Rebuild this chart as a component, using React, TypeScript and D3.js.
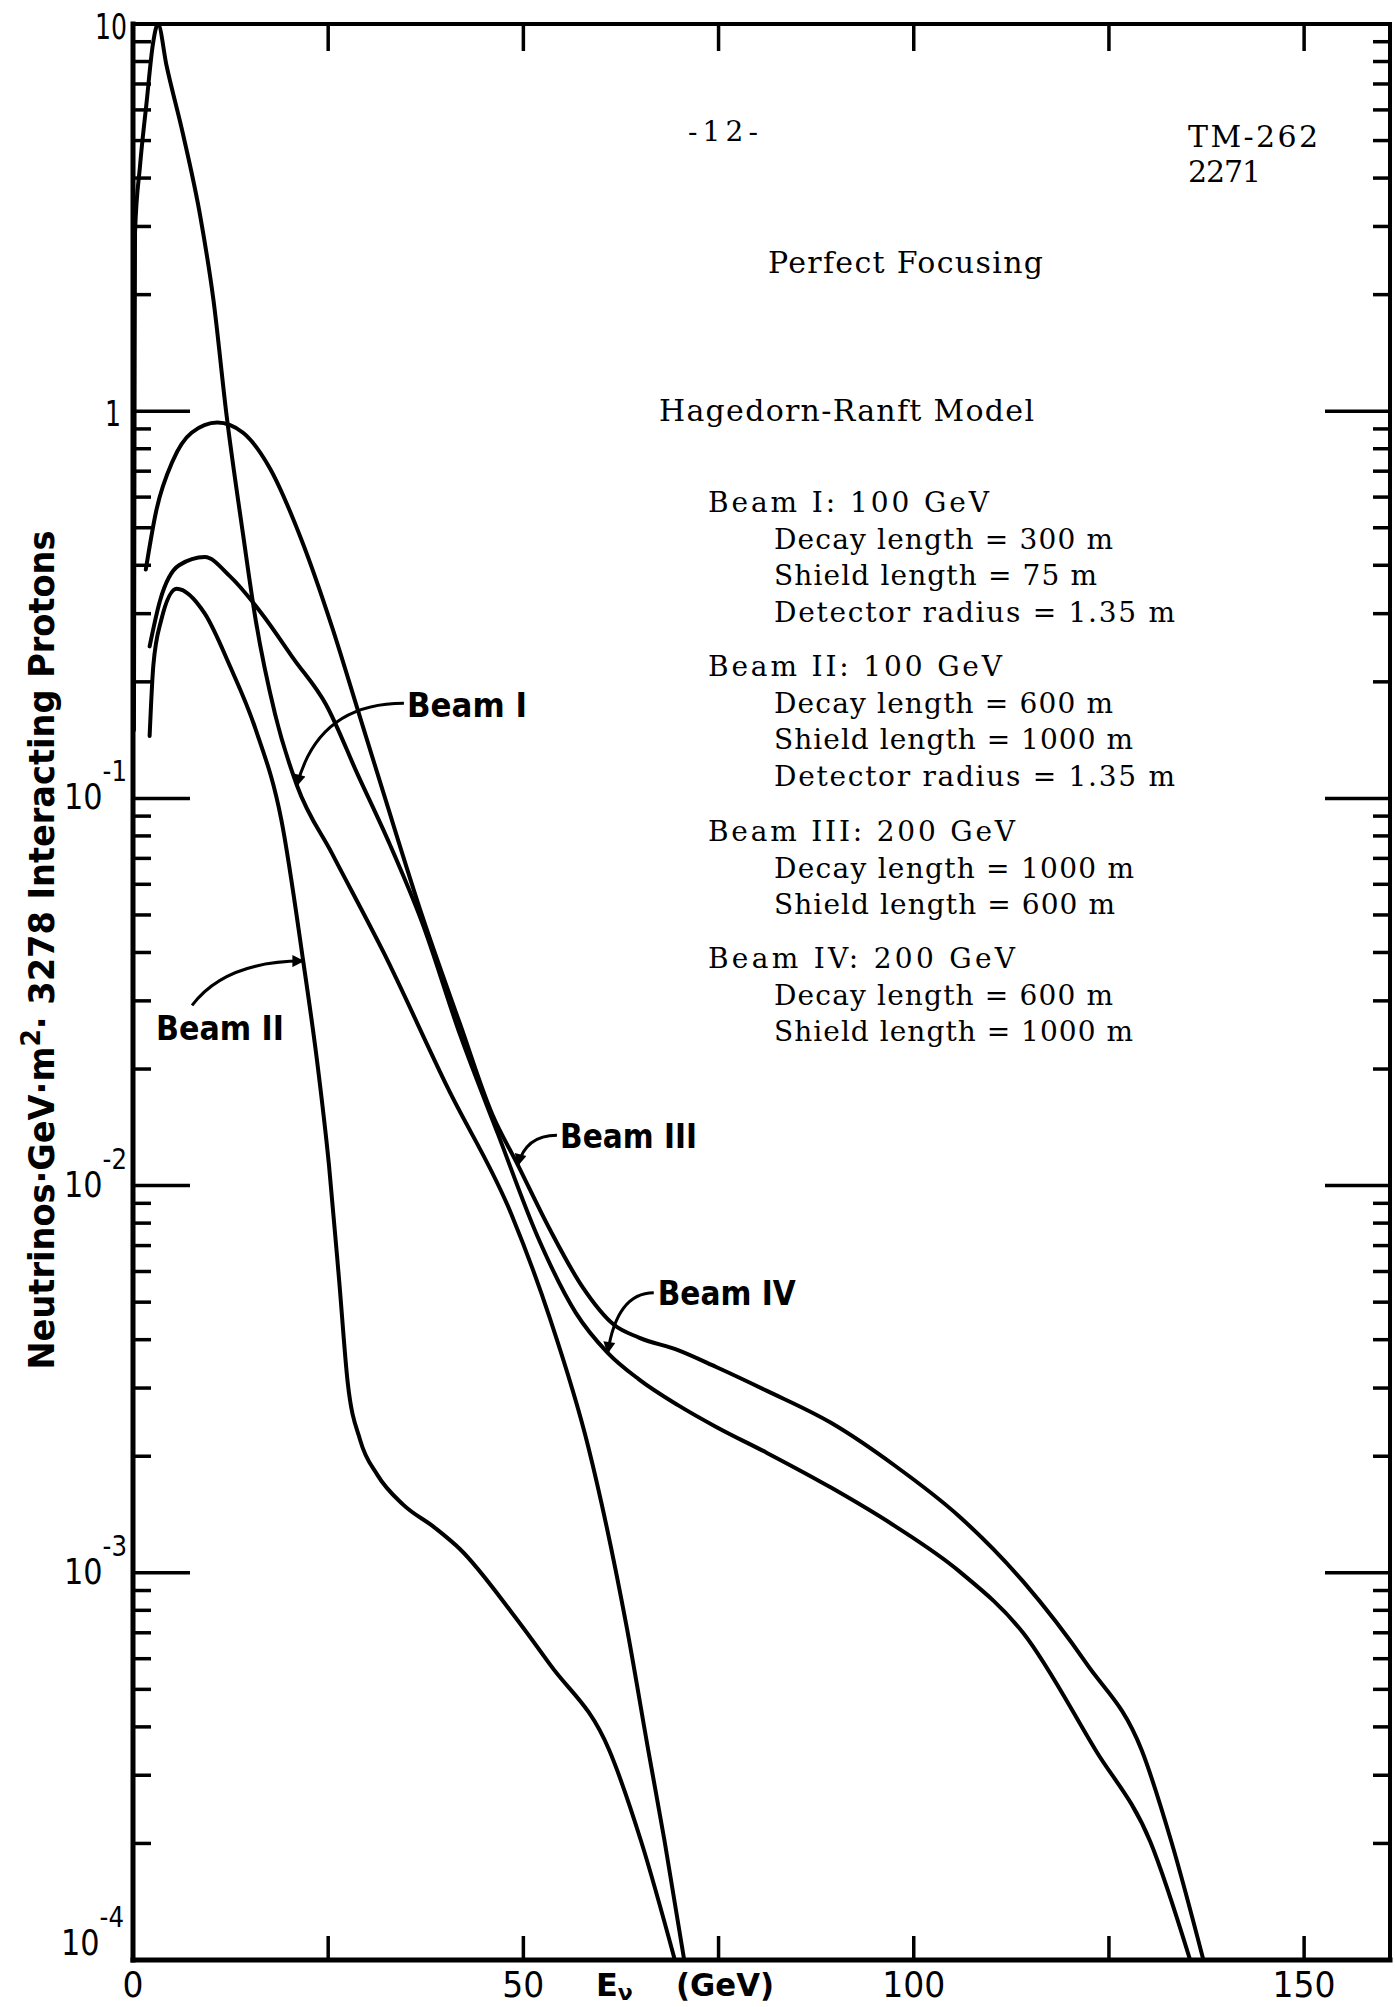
import * as d3 from "d3";

// ---- curves (E in GeV, flux per GeV m^2 per 3278 interacting protons) ----
const beamIEnergy = [0.12, 0.2, 0.26, 0.9, 1.75, 2.56, 3.2, 4.3, 6.4, 8.6, 10.3, 12.0, 14.1, 15.7, 18.2, 21.0, 25.5, 32.1, 40.3, 48.5, 53.4, 58.3, 63.2, 66.0, 68.1, 70.6];
const beamIFlux = [0.15, 1.0, 2.9, 4.3, 6.3, 8.9, 10, 7.8, 5.2, 3.2, 1.94, 0.97, 0.48, 0.29, 0.165, 0.108, 0.072, 0.04, 0.0179, 0.0084, 0.00454, 0.00212, 0.00073, 0.000348, 0.000202, 0.0001];

const beamIIEnergy = [2.13, 2.6, 3.6, 5.6, 9.2, 12.4, 15.7, 19.0, 21.8, 23.6, 25.1, 26.4, 27.5, 29.1, 31.3, 34.6, 38.6, 41.9, 48.5, 53.4, 61.0, 65.1, 69.4];
const beamIIFlux = [0.145, 0.22, 0.288, 0.348, 0.3, 0.22, 0.151, 0.088, 0.038, 0.0208, 0.0113, 0.0057, 0.0031, 0.0022, 0.00179, 0.0015, 0.00131, 0.00115, 0.00079, 0.00058, 0.000348, 0.000202, 0.0001];

const beamIIIEnergy = [1.64, 2.95, 5.1, 7.5, 10.8, 14.1, 17.4, 21.5, 25.5, 28.8, 32.1, 37.0, 41.9, 46.0, 49.3, 53.4, 57.5, 61.6, 64.8, 69.8, 74.7, 81.2, 89.4, 97.6, 105.8, 114.0, 122.2, 129.2, 133.0, 137.1];
const beamIIIFlux = [0.39, 0.55, 0.745, 0.88, 0.935, 0.88, 0.72, 0.47, 0.277, 0.169, 0.103, 0.05, 0.0261, 0.0153, 0.0113, 0.0077, 0.0055, 0.00437, 0.00405, 0.00376, 0.0034, 0.00295, 0.00244, 0.00189, 0.0014, 0.00095, 0.00058, 0.000348, 0.000202, 0.0001];

const beamIVEnergy = [2.13, 3.44, 5.9, 9.2, 12.4, 16.5, 20.6, 24.7, 28.8, 32.9, 37.0, 41.9, 46.8, 51.8, 56.7, 60.8, 64.8, 69.8, 74.7, 81.2, 89.4, 97.6, 105.8, 114.0, 123.3, 130.3, 135.4];
const beamIVFlux = [0.247, 0.323, 0.4, 0.42, 0.375, 0.3, 0.229, 0.175, 0.115, 0.076, 0.048, 0.0245, 0.0135, 0.0074, 0.0047, 0.0037, 0.00316, 0.00271, 0.00238, 0.00204, 0.00166, 0.00132, 0.00101, 0.0007, 0.000348, 0.000202, 0.0001];

// callouts: label anchor, arrow tail and arrow tip, in data units
const calloutNames = ["Beam I", "Beam II", "Beam III", "Beam IV"];
const calloutTextE = [35.1, 2.95, 54.7, 67.2];
const calloutTextFlux = [0.162, 0.0238, 0.0125, 0.00492];
const calloutTailE = [34.7, 7.56, 54.3, 66.7];
const calloutTailFlux = [0.176, 0.0292, 0.0135, 0.00529];
const calloutTipE = [21.0, 21.8, 49.3, 60.8];
const calloutTipFlux = [0.108, 0.038, 0.0113, 0.0037];

// axes
const xTickValues = [25, 50, 75, 100, 125, 150];
const xLabelValues = [0, 50, 100, 150];
const yLabelBase = ["10", "1", "10", "10", "10", "10"];
const yLabelExp = ["", "", "-1", "-2", "-3", "-4"];
const yLabelValues = [10, 1, 0.1, 0.01, 0.001, 0.0001];

// page text
const pageNumber = "-12-";
const memoLines = ["TM-262", "2271"];
const headline = "Perfect Focusing";
const modelName = "Hagedorn-Ranft Model";
const beamSpecTitles = ["Beam I:  100 GeV", "Beam II:  100 GeV", "Beam III:  200 GeV", "Beam IV:  200 GeV"];
const beamSpecDetails = [
  ["Decay length = 300 m", "Shield length = 75 m", "Detector radius = 1.35 m"],
  ["Decay length = 600 m", "Shield length = 1000 m", "Detector radius = 1.35 m"],
  ["Decay length = 1000 m", "Shield length = 600 m"],
  ["Decay length = 600 m", "Shield length = 1000 m"],
];

const W = 1395;
const H = 2007;
const L = 133;
const R = 1390;
const T = 24;
const B = 1960;

const typeFont = "'DejaVu Serif', serif";
const letterFont = "'DejaVu Sans', sans-serif";

const App = () => {
  const x = d3.scaleLinear().domain([0, 161]).range([L, R]);
  const y = d3.scaleLog().domain([1e-4, 10]).range([B, T]);

  const line = d3
    .line<[number, number]>()
    .x((d) => x(d[0]))
    .y((d) => y(d[1]))
    .curve(d3.curveMonotoneX);

  const series = [
    { e: beamIEnergy, f: beamIFlux },
    { e: beamIIEnergy, f: beamIIFlux },
    { e: beamIIIEnergy, f: beamIIIFlux },
    { e: beamIVEnergy, f: beamIVFlux },
  ];

  const yTicks = y.ticks();
  const isMajor = (v: number) => Math.abs(Math.log10(v) - Math.round(Math.log10(v))) < 1e-6;

  // spec block layout
  const blockTops = [512, 676, 841, 968];
  const lineGap = 36.7;
  const titleWidths = [281, 294, 307, 307];
  const detailWidths = [
    [339, 323, 401],
    [339, 359, 401],
    [360, 341],
    [339, 359],
  ];
  const calloutWidths = [120, 128, 137, 138];

  return (
    <svg
      width={W}
      height={H}
      viewBox={`0 0 ${W} ${H}`}
      style={{ position: "absolute", left: 0, top: 0, background: "#fff" }}
    >
      <defs>
        <marker
          id="head"
          viewBox="0 0 10 10"
          refX="9"
          refY="5"
          markerWidth="20"
          markerHeight="12"
          markerUnits="userSpaceOnUse"
          orient="auto"
        >
          <path d="M0,0 L10,5 L0,10 z" fill="#000" />
        </marker>
      </defs>

      {/* frame */}
      <g stroke="#000" strokeLinecap="square">
        <line x1={L} y1={T} x2={L} y2={B} strokeWidth={5} />
        <line x1={L} y1={B} x2={R} y2={B} strokeWidth={5} />
        <line x1={L} y1={T} x2={R} y2={T} strokeWidth={4} />
        <line x1={R} y1={T} x2={R} y2={B} strokeWidth={4} />
      </g>

      {/* ticks */}
      <g stroke="#000" strokeWidth={3.5}>
        {yTicks.map((v, i) => {
          const yy = y(v);
          const major = isMajor(v);
          return (
            <g key={i}>
              <line x1={L} x2={L + (major ? 57 : 18)} y1={yy} y2={yy} />
              <line x1={R} x2={R - (major ? 65 : 17)} y1={yy} y2={yy} />
            </g>
          );
        })}
        {xTickValues.map((v) => (
          <g key={v}>
            <line x1={x(v)} x2={x(v)} y1={B} y2={B - 24} />
            <line x1={x(v)} x2={x(v)} y1={T} y2={T + 27} />
          </g>
        ))}
      </g>

      {/* curves */}
      <g fill="none" stroke="#000" strokeWidth={4} strokeLinejoin="round" strokeLinecap="round">
        {series.map((s, i) => (
          <path key={i} d={line(s.e.map((e, k) => [e, s.f[k]] as [number, number])) || ""} />
        ))}
      </g>

      {/* callouts */}
      {calloutNames.map((name, i) => {
        const tx = x(calloutTailE[i]);
        const ty = y(calloutTailFlux[i]);
        const px = x(calloutTipE[i]);
        const py = y(calloutTipFlux[i]);
        const cx = i === 1 ? tx + 0.3 * (px - tx) : px + 0.2 * (tx - px);
        const cy = i === 1 ? py : ty;
        return (
          <g key={name}>
            <path
              d={`M${tx},${ty} Q${cx},${cy} ${px},${py}`}
              fill="none"
              stroke="#000"
              strokeWidth={3}
              markerEnd="url(#head)"
            />
            <text
              x={x(calloutTextE[i])}
              y={y(calloutTextFlux[i])}
              fontFamily={letterFont}
              fontWeight="bold"
              fontSize={33}
              textLength={calloutWidths[i]}
              lengthAdjust="spacingAndGlyphs"
            >
              {name}
            </text>
          </g>
        );
      })}

      {/* y tick labels */}
      <g fontFamily={letterFont} fill="#000">
        {yLabelValues.map((v, i) => {
          const yy = y(v);
          if (!yLabelExp[i]) {
            return (
              <text key={i} x={i === 0 ? 127 : 121} y={yy + 15} fontSize={36} textAnchor="end"
                textLength={yLabelBase[i].length * 16} lengthAdjust="spacingAndGlyphs">
                {yLabelBase[i]}
              </text>
            );
          }
          const bottom = i === yLabelValues.length - 1;
          return (
            <text key={i} x={bottom ? 61 : 64} y={yy + (bottom ? -5 : 11)} fontSize={36}
              textLength={63} lengthAdjust="spacingAndGlyphs">
              {yLabelBase[i]}
              <tspan dy={-28} fontSize={29}>{yLabelExp[i]}</tspan>
            </text>
          );
        })}
      </g>

      {/* x tick labels */}
      <g fontFamily={letterFont} fill="#000">
        {xLabelValues.map((v) => (
          <text key={v} x={x(v)} y={1997} fontSize={35} textAnchor="middle"
            textLength={String(v).length * 21} lengthAdjust="spacingAndGlyphs">
            {String(v)}
          </text>
        ))}
      </g>

      {/* axis titles */}
      <g fontFamily={letterFont} fontWeight="bold" fill="#000">
        <text x={596} y={1996} fontSize={32}>
          E<tspan dy={4} fontSize={22}>ν</tspan>
        </text>
        <text x={676} y={1996} fontSize={32} textLength={98} lengthAdjust="spacingAndGlyphs">
          (GeV)
        </text>
        <text
          transform="translate(54,950) rotate(-90)"
          textAnchor="middle"
          fontSize={35}
          textLength={839}
          lengthAdjust="spacingAndGlyphs"
        >
          Neutrinos·GeV·m<tspan dy={-14} fontSize={26}>2</tspan>
          <tspan dy={14}>· 3278 Interacting Protons</tspan>
        </text>
      </g>

      {/* typed page text */}
      <g fontFamily={typeFont} fill="#000" style={{ whiteSpace: "pre" }}>
        <text x={688} y={141} fontSize={28} textLength={70} lengthAdjust="spacing">{pageNumber}</text>
        <text x={1188} y={147} fontSize={30} textLength={130} lengthAdjust="spacing">{memoLines[0]}</text>
        <text x={1188} y={182} fontSize={30} textLength={73} lengthAdjust="spacing">{memoLines[1]}</text>
        <text x={768} y={273} fontSize={30} textLength={275} lengthAdjust="spacing">{headline}</text>
        <text x={659} y={421} fontSize={30} textLength={375} lengthAdjust="spacing">{modelName}</text>
        {beamSpecTitles.map((t, i) => (
          <g key={t}>
            <text x={708} y={blockTops[i]} fontSize={28} textLength={titleWidths[i]} lengthAdjust="spacing">
              {t}
            </text>
            {beamSpecDetails[i].map((d, k) => (
              <text key={k} x={774} y={blockTops[i] + (k + 1) * lineGap} fontSize={28}
                textLength={detailWidths[i][k]} lengthAdjust="spacing">
                {d}
              </text>
            ))}
          </g>
        ))}
      </g>
    </svg>
  );
};

export default App;
